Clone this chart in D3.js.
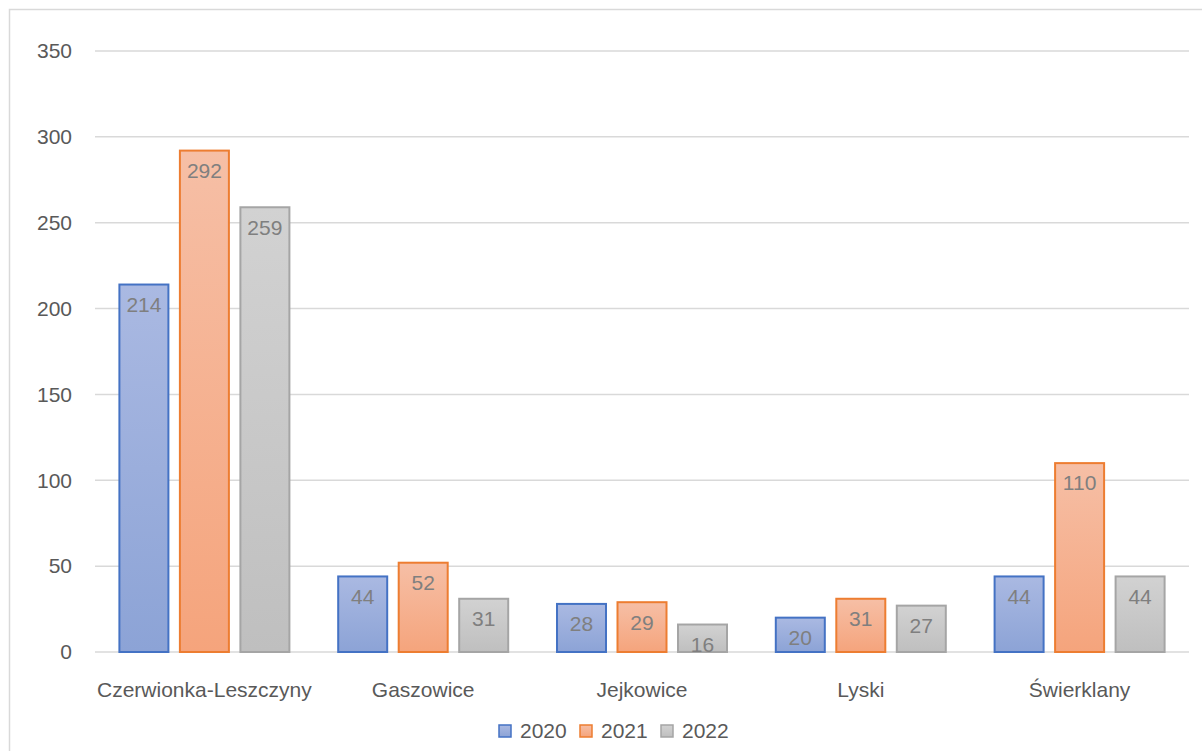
<!DOCTYPE html>
<html>
<head>
<meta charset="utf-8">
<script src="https://cdn.jsdelivr.net/npm/d3@7"></script>
<style>
  body { margin: 0; background: #fff; }
  text { font-family: "Liberation Sans", "DejaVu Sans", sans-serif; }
</style>
</head>
<body>
<div id="chart"></div>
<script>
// chart data
var categories = ["Czerwionka-Leszczyny", "Gaszowice", "Jejkowice", "Lyski", "Świerklany"];
var years = ["2020", "2021", "2022"];
var values2020 = [214, 44, 28, 20, 44];
var values2021 = [292, 52, 29, 31, 110];
var values2022 = [259, 31, 16, 27, 44];
var yTicks = [0, 50, 100, 150, 200, 250, 300, 350];

var series = [values2020, values2021, values2022];
var strokes = ["#4472c4", "#ed7d31", "#a5a5a5"];
var gradTop = ["#aab9e2", "#f6bfa6", "#d2d2d2"];
var gradBottom = ["#8ca3d6", "#f5a47c", "#bfbfbf"];

var svgWidth = 1202;
var svgHeight = 751;
var margin = { top: 51, right: 13, bottom: 99, left: 95 };
var width = svgWidth - margin.left - margin.right;
var height = svgHeight - margin.top - margin.bottom;
var groupWidth = 170;
var fontSize = "21px";

var svg = d3.select("#chart")
  .append("svg")
  .attr("width", svgWidth)
  .attr("height", svgHeight);

// outer chart border
svg.append("rect")
  .attr("x", 9.5).attr("y", 9.5)
  .attr("width", 1220).attr("height", 800)
  .attr("fill", "none")
  .attr("stroke", "#d9d9d9")
  .attr("stroke-width", 1.5);

var defs = svg.append("defs");
years.forEach(function(y, i) {
  var g = defs.append("linearGradient")
    .attr("id", "grad" + i)
    .attr("x1", 0).attr("y1", 0).attr("x2", 0).attr("y2", 1);
  g.append("stop").attr("offset", "0%").attr("stop-color", gradTop[i]);
  g.append("stop").attr("offset", "100%").attr("stop-color", gradBottom[i]);
});

var chartGroup = svg.append("g")
  .attr("transform", `translate(${margin.left}, ${margin.top})`);

var xScale = d3.scaleBand()
  .domain(categories)
  .range([0, width]);

var xInner = d3.scaleBand()
  .domain(years)
  .range([0, groupWidth])
  .paddingInner(0.19);

var yScale = d3.scaleLinear()
  .domain([0, 350])
  .range([height, 0]);

// gridlines
chartGroup.append("g")
  .selectAll("line")
  .data(yTicks)
  .enter()
  .append("line")
  .attr("x1", 0)
  .attr("x2", width)
  .attr("y1", d => yScale(d))
  .attr("y2", d => yScale(d))
  .attr("stroke", "#d9d9d9")
  .attr("stroke-width", 1.5);

// y tick labels
chartGroup.append("g")
  .selectAll("text")
  .data(yTicks)
  .enter()
  .append("text")
  .attr("x", -23)
  .attr("y", d => yScale(d))
  .attr("dy", "0.35em")
  .attr("text-anchor", "end")
  .attr("fill", "#595959")
  .attr("font-size", fontSize)
  .text(d => d);

// bars
series.forEach(function(vals, i) {
  var grp = chartGroup.append("g");
  var offset = (xScale.bandwidth() - groupWidth) / 2;

  grp.selectAll("rect")
    .data(vals)
    .enter()
    .append("rect")
    .attr("x", (d, j) => xScale(categories[j]) + offset + xInner(years[i]))
    .attr("y", d => yScale(d))
    .attr("width", xInner.bandwidth())
    .attr("height", d => height - yScale(d))
    .attr("fill", "url(#grad" + i + ")")
    .attr("stroke", strokes[i])
    .attr("stroke-width", 2);

  grp.selectAll("text")
    .data(vals)
    .enter()
    .append("text")
    .attr("x", (d, j) => xScale(categories[j]) + offset + xInner(years[i]) + xInner.bandwidth() / 2)
    .attr("y", d => yScale(d) + 20)
    .attr("dy", "0.35em")
    .attr("text-anchor", "middle")
    .attr("fill", "#7f7f7f")
    .attr("font-size", fontSize)
    .text(d => d);
});

// category labels
chartGroup.append("g")
  .selectAll("text")
  .data(categories)
  .enter()
  .append("text")
  .attr("x", d => xScale(d) + xScale.bandwidth() / 2)
  .attr("y", height + 38)
  .attr("dy", "0.35em")
  .attr("text-anchor", "middle")
  .attr("fill", "#595959")
  .attr("font-size", fontSize)
  .text(d => d);

// legend
var legend = svg.append("g")
  .attr("transform", "translate(499, 731)");

var legendItems = legend.selectAll("g")
  .data(years)
  .enter()
  .append("g")
  .attr("transform", (d, i) => `translate(${i * 81}, 0)`);

legendItems.append("rect")
  .attr("x", 0).attr("y", -6)
  .attr("width", 12).attr("height", 12)
  .attr("fill", (d, i) => "url(#grad" + i + ")")
  .attr("stroke", (d, i) => strokes[i])
  .attr("stroke-width", 1.5);

legendItems.append("text")
  .attr("x", 21)
  .attr("y", 0)
  .attr("dy", "0.35em")
  .attr("fill", "#595959")
  .attr("font-size", fontSize)
  .text(d => d);
</script>
</body>
</html>
